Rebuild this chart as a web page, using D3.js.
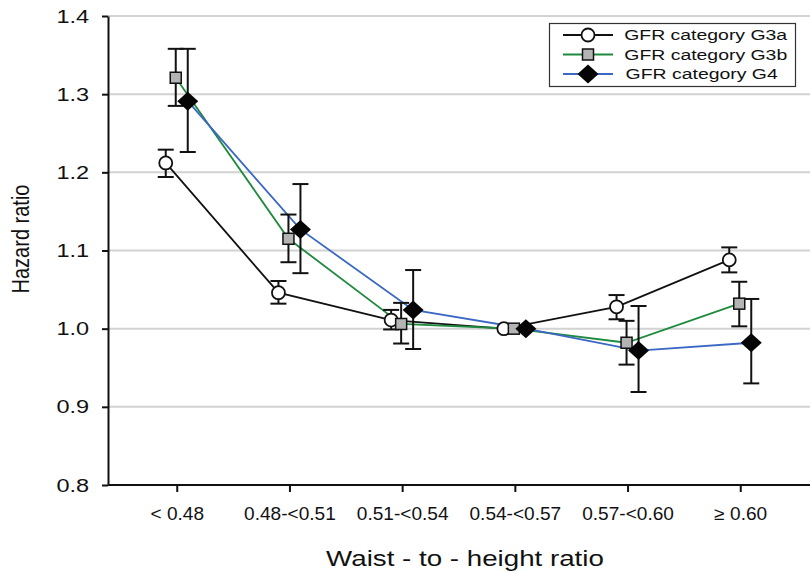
<!DOCTYPE html>
<html>
<head>
<meta charset="utf-8">
<script src="https://cdn.jsdelivr.net/npm/d3@7"></script>
<style>
  body { margin: 0; background: #fff; }
  svg text { font-family: "Liberation Sans", Arial, sans-serif; fill: #111; }
  .wide { transform-box: fill-box; transform-origin: center; }
</style>
</head>
<body>
<div id="chart"></div>
<script>
// categories and series (hazard ratio with 95% CI)
var categories = ["< 0.48", "0.48-<0.51", "0.51-<0.54", "0.54-<0.57", "0.57-<0.60", "\u2265 0.60"];
var seriesNames = ["GFR category G3a", "GFR category G3b", "GFR category G4"];

var g3aHR    = [1.212, 1.046, 1.011, 1.000, 1.028, 1.088];
var g3aLower = [1.194, 1.032, 0.999, 1.000, 1.012, 1.072];
var g3aUpper = [1.229, 1.061, 1.024, 1.000, 1.043, 1.104];

var g3bHR    = [1.321, 1.115, 1.006, 1.000, 0.982, 1.032];
var g3bLower = [1.285, 1.085, 0.981, 1.000, 0.954, 1.003];
var g3bUpper = [1.358, 1.146, 1.033, 1.000, 1.010, 1.060];

var g4HR     = [1.291, 1.127, 1.024, 1.000, 0.972, 0.982];
var g4Lower  = [1.226, 1.071, 0.974, 1.000, 0.919, 0.930];
var g4Upper  = [1.358, 1.185, 1.075, 1.000, 1.029, 1.038];

var yTicks = [0.8, 0.9, 1.0, 1.1, 1.2, 1.3, 1.4];

var width = 810, height = 572;
var plotLeft = 108, plotRight = 809, plotTop = 16, plotBottom = 485;

var svg = d3.select("#chart").append("svg").attr("width", width).attr("height", height);

var x = d3.scalePoint().domain(categories).range([plotLeft, plotRight]).padding(0.61);
var y = d3.scaleLinear().domain([0.8, 1.4]).range([plotBottom, plotTop]);

// build series list from the arrays above
var series = [
    {name: seriesNames[0], hr: g3aHR, lo: g3aLower, hi: g3aUpper, color: "#111111", shape: "circle", dx: -11},
    {name: seriesNames[1], hr: g3bHR, lo: g3bLower, hi: g3bUpper, color: "#1e8a3e", shape: "square", dx: -1},
    {name: seriesNames[2], hr: g4HR,  lo: g4Lower,  hi: g4Upper,  color: "#3a68c4", shape: "diamond", dx: 11}
];
series.forEach(function(s) {
    s.points = categories.map(function(c, i) {
        return {cat: c, hr: s.hr[i], lo: s.lo[i], hi: s.hi[i], px: x(c) + s.dx};
    });
});

// gridlines
svg.append("g").selectAll("line")
    .data(yTicks.slice(1))
    .enter().append("line")
    .attr("x1", plotLeft).attr("x2", width)
    .attr("y1", function(d) { return y(d); })
    .attr("y2", function(d) { return y(d); })
    .style("stroke", "#d2d2d2").style("stroke-width", 2);

// axes
var yAxis = svg.append("g")
    .attr("transform", "translate(" + plotLeft + ",0)")
    .call(d3.axisLeft(y).tickValues(yTicks).tickFormat(d3.format(".1f")).tickSize(6).tickSizeOuter(0).tickPadding(16));
yAxis.select(".domain").style("stroke", "#111").style("stroke-width", 2);
yAxis.selectAll(".tick line").style("stroke", "#111").style("stroke-width", 2);
yAxis.selectAll("text").attr("class", "wide").style("font-size", "19px")
    .style("transform", "scaleX(1.24)");

var xAxis = svg.append("g")
    .attr("transform", "translate(0," + plotBottom + ")")
    .call(d3.axisBottom(x).tickSize(7).tickSizeOuter(0).tickPadding(15));
xAxis.select(".domain").attr("d", "M" + plotLeft + ",0H" + width).style("stroke", "#111").style("stroke-width", 2);
xAxis.selectAll(".tick line").style("stroke", "#111").style("stroke-width", 2);
xAxis.selectAll("text").attr("class", "wide").style("font-size", "18px")
    .style("transform", "scaleX(1.06)");

// axis titles
svg.append("text")
    .attr("class", "wide")
    .attr("x", 465).attr("y", 566)
    .attr("text-anchor", "middle")
    .style("font-size", "22px")
    .style("transform", "scaleX(1.26)")
    .text("Waist - to - height ratio");

svg.append("text")
    .attr("transform", "translate(29,239) rotate(-90) scale(1,1.22)")
    .attr("text-anchor", "middle")
    .style("font-size", "20px")
    .text("Hazard ratio");

// lines
var line = d3.line().x(function(d) { return d.px; }).y(function(d) { return y(d.hr); });
svg.append("g").selectAll("path")
    .data(series)
    .enter().append("path")
    .attr("d", function(s) { return line(s.points); })
    .style("fill", "none")
    .style("stroke", function(s) { return s.color; })
    .style("stroke-width", 1.8);

// error bars
var allPoints = [];
series.forEach(function(s) { s.points.forEach(function(p) { allPoints.push(p); }); });
var bars = svg.append("g").selectAll("g")
    .data(allPoints.filter(function(p) { return p.hi > p.lo; }))
    .enter().append("g")
    .style("stroke", "#111").style("stroke-width", 2);
bars.append("line")
    .attr("x1", function(d) { return d.px; }).attr("x2", function(d) { return d.px; })
    .attr("y1", function(d) { return y(d.lo); }).attr("y2", function(d) { return y(d.hi); });
bars.append("line")
    .attr("x1", function(d) { return d.px - 8; }).attr("x2", function(d) { return d.px + 8; })
    .attr("y1", function(d) { return y(d.hi); }).attr("y2", function(d) { return y(d.hi); });
bars.append("line")
    .attr("x1", function(d) { return d.px - 8; }).attr("x2", function(d) { return d.px + 8; })
    .attr("y1", function(d) { return y(d.lo); }).attr("y2", function(d) { return y(d.lo); });

// markers
function drawMarker(g, shape) {
    if (shape == "circle") {
        g.append("circle").attr("r", 6.5).style("fill", "#fff").style("stroke", "#111").style("stroke-width", 1.8);
    } else if (shape == "square") {
        g.append("rect").attr("x", -5.5).attr("y", -5.5).attr("width", 11).attr("height", 11)
            .style("fill", "#b4b4b4").style("stroke", "#111").style("stroke-width", 1.5);
    } else {
        g.append("path").attr("d", "M0,-9.5L10.5,0L0,9.5L-10.5,0Z").style("fill", "#050505");
    }
}
series.forEach(function(s) {
    svg.append("g").selectAll("g")
        .data(s.points)
        .enter().append("g")
        .attr("transform", function(d) { return "translate(" + d.px + "," + y(d.hr) + ")"; })
        .each(function() { drawMarker(d3.select(this), s.shape); });
});

// legend
var legend = svg.append("g");
legend.append("rect")
    .attr("x", 549.5).attr("y", 23.5).attr("width", 246).attr("height", 63)
    .style("fill", "#fff").style("stroke", "#333").style("stroke-width", 1.2);
var items = legend.selectAll("g.item")
    .data(series)
    .enter().append("g")
    .attr("class", "item")
    .attr("transform", function(d, i) { return "translate(0," + (35 + i * 19.5) + ")"; });
items.append("line")
    .attr("x1", 563).attr("x2", 613)
    .style("stroke", function(d) { return d.color; })
    .style("stroke-width", 1.8);
items.append("g")
    .attr("transform", "translate(588,0)")
    .each(function(d) { drawMarker(d3.select(this), d.shape); });
items.append("text")
    .attr("class", "wide")
    .attr("x", 645).attr("dy", "0.35em")
    .style("font-size", "14.5px")
    .style("transform", "scaleX(1.34)")
    .text(function(d) { return d.name; });
</script>
</body>
</html>
